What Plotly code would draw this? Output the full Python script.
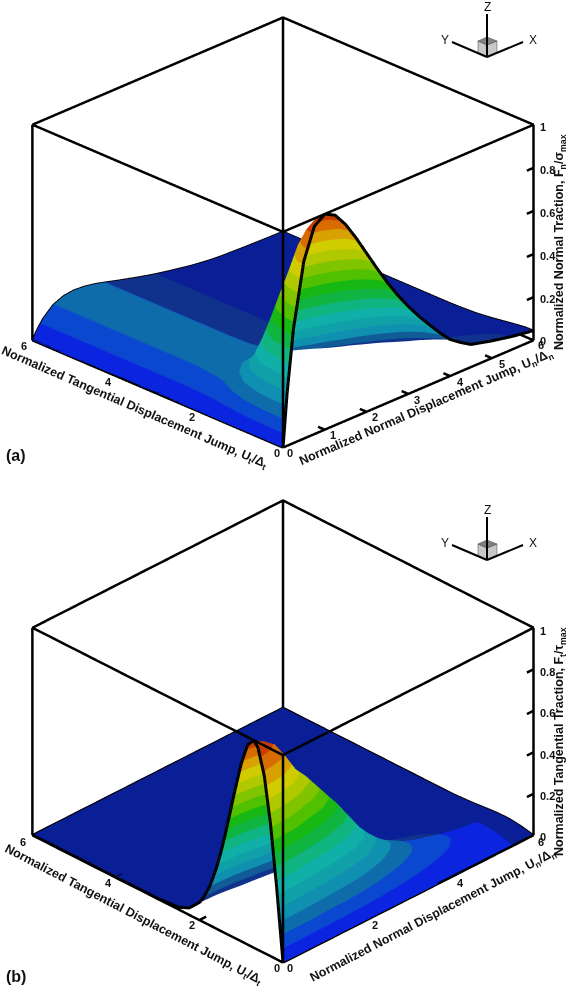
import plotly.graph_objects as go

# ---------- data ----------
UN_A = [0, .1, .25, .5, .75, 1, 1.25, 1.5, 1.75, 2, 2.25, 2.5, 2.75, 3, 3.25, 3.5, 3.75, 4, 4.25, 4.5, 5, 5.5, 6]
UT_A = [0, .2, .4, .6, .8, 1, 1.2, 1.4, 1.6, 1.8, 2, 2.5, 3, 4, 5, 6]
FN = [
    [0, .246, .529, .824, .963, 1, .974, .91, .827, .736, .645, .558, .478, .406, .34, .28, .222, .17, .135, .105, .08, .06, .045],
    [0, .238, .512, .797, .931, .967, .942, .880, .800, .712, .624, .540, .462, .393, .329, .271, .215, .164, .131, .102, .077, .058, .044],
    [0, .215, .462, .720, .842, .874, .851, .795, .723, .643, .564, .488, .418, .355, .297, .245, .194, .149, .118, .092, .070, .052, .039],
    [0, .183, .393, .612, .716, .743, .724, .676, .614, .547, .479, .415, .355, .302, .253, .208, .165, .126, .100, .078, .059, .045, .033],
    [0, .147, .316, .493, .576, .598, .582, .544, .495, .440, .386, .334, .286, .243, .203, .167, .133, .102, .081, .063, .048, .036, .027],
    [0, .114, .245, .382, .446, .463, .451, .421, .383, .341, .299, .258, .221, .188, .157, .130, .103, .079, .063, .049, .037, .028, .021],
    [0, .086, .186, .289, .338, .351, .342, .319, .290, .258, .226, .196, .168, .143, .119, .098, .078, .060, .047, .037, .028, .021, .016],
    [0, .066, .143, .222, .260, .270, .263, .246, .223, .199, .174, .151, .129, .110, .092, .076, .060, .046, .036, .028, .022, .016, .012],
    [0, .053, .114, .177, .207, .215, .209, .196, .178, .158, .139, .120, .103, .087, .073, .060, .048, .037, .029, .023, .017, .013, .010],
    [0, .045, .097, .151, .176, .183, .178, .167, .151, .135, .118, .102, .087, .074, .062, .051, .041, .031, .025, .019, .015, .011, .008],
    [0, .041, .088, .137, .160, .166, .162, .151, .137, .122, .107, .093, .079, .067, .056, .046, .037, .028, .022, .017, .013, .010, .007],
    [0, .037, .080, .125, .146, .152, .148, .138, .126, .112, .098, .085, .073, .062, .052, .043, .034, .026, .021, .016, .012, .009, .007],
    [0, .037, .079, .124, .144, .150, .146, .137, .124, .110, .097, .084, .072, .061, .051, .042, .033, .026, .020, .016, .012, .009, .007],
    [0, .037, .079, .124, .144, .150, .146, .137, .124, .110, .097, .084, .072, .061, .051, .042, .033, .026, .020, .016, .012, .009, .007],
    [0, .037, .079, .124, .144, .150, .146, .137, .124, .110, .097, .084, .072, .061, .051, .042, .033, .026, .020, .016, .012, .009, .007],
    [0, .037, .079, .124, .144, .150, .146, .137, .124, .110, .097, .084, .072, .061, .051, .042, .033, .026, .020, .016, .012, .009, .007],
]
UN_B = [0, .25, .5, .75, 1, 1.25, 1.5, 1.75, 2, 2.25, 2.5, 2.75, 3, 3.25, 3.5, 3.75, 4, 4.5, 5, 5.5, 6]
UT_B = [0, .15, .3, .45, .6, .7, .85, 1, 1.15, 1.3, 1.4, 1.5, 1.6, 1.75, 1.9, 2, 2.25, 2.5, 3, 4, 5, 6]
FT = [
    [0] * 21,
    [.342, .332, .318, .291, .260, .239, .215, .192, .168, .140, .113, .092, .075, .062, .051, .041, .034, .024, .015, .010, .007],
    [.639, .620, .594, .543, .486, .447, .403, .358, .313, .262, .211, .173, .141, .115, .096, .077, .064, .045, .029, .019, .013],
    [.856, .830, .796, .728, .651, .599, .539, .479, .419, .351, .282, .231, .188, .154, .128, .103, .086, .060, .039, .026, .017],
    [.975, .946, .907, .829, .741, .683, .614, .546, .478, .400, .322, .263, .215, .176, .146, .117, .098, .068, .044, .029, .020],
    [.999, .969, .929, .849, .759, .699, .629, .559, .490, .410, .330, .270, .220, .180, .150, .120, .100, .070, .045, .030, .020],
    [.962, .933, .895, .818, .731, .673, .606, .539, .471, .394, .317, .260, .212, .173, .144, .115, .096, .067, .043, .029, .019],
    [.857, .831, .797, .728, .651, .600, .540, .480, .420, .351, .283, .231, .189, .154, .129, .103, .086, .060, .039, .026, .017],
    [.713, .692, .663, .606, .542, .499, .449, .399, .349, .292, .235, .193, .157, .128, .107, .086, .071, .050, .032, .021, .014],
    [.560, .543, .521, .476, .426, .392, .353, .314, .274, .230, .185, .151, .123, .101, .084, .067, .056, .039, .025, .017, .011],
    [.460, .446, .428, .391, .350, .322, .290, .258, .225, .189, .152, .124, .101, .083, .069, .055, .046, .032, .021, .014, .009],
    [.368, .357, .342, .313, .280, .258, .232, .206, .180, .151, .121, .099, .081, .066, .055, .044, .037, .026, .017, .011, .007],
    [.288, .279, .268, .245, .219, .202, .181, .161, .141, .118, .095, .078, .063, .052, .043, .035, .029, .020, .013, .009, .006],
    [.191, .185, .178, .162, .145, .134, .120, .107, .094, .078, .063, .052, .042, .034, .029, .023, .019, .013, .009, .006, .004],
    [.120, .116, .112, .102, .091, .084, .076, .067, .059, .049, .040, .032, .026, .022, .018, .014, .012, .008, .005, .004, .002],
    [.085, .082, .079, .072, .065, .060, .054, .048, .042, .035, .028, .023, .019, .015, .013, .010, .009, .006, .004, .003, .002],
    [.033, .032, .031, .028, .025, .023, .021, .018, .016, .014, .011, .009, .007, .006, .005, .004, .003, .002, .001, .001, .001],
    [.011, .011, .010, .009, .008, .008, .007, .006, .005, .005, .004, .003, .002, .002, .002, .001, .001, .001, .001, .001, .001],
    [.002, .002, .002, .002, .002, .002, .002, .002, .001, .001, .001, .001, .001, .001, .001, .001, .001, .001, .001, .001, .001],
    [.001] * 21,
    [.001] * 21,
    [.001] * 21,
]
TICKS_UN_A = [1, 2, 3, 4, 5]
TICKS_UT_A = [2, 4, 6]
TICKS_UN_B = [2, 4]
TICKS_UT_B = [2, 4, 6]
TICKS_Z = [.2, .4, .6, .8]
# contour bands as they appear on the lit faces and on the faces turned away from the light
BANDS_LIT = ["#0a24e0", "#0a48d0", "#0f6cab", "#1090b0", "#10a0a8", "#10b0a8", "#10b480", "#10b440",
             "#18b814", "#50c000", "#80c400", "#b0c800", "#d0cc00", "#d8a000", "#d86c00", "#c83c00"]
BANDS_SHADE = ["#0a1e96", "#10328c", "#0f5c96"] + BANDS_LIT[3:]

W, H = 567, 986
def px(x): return x / W
def py(y): return 1 - y / H

def stepped(colors):
    out = []
    for i, c in enumerate(colors):
        out += [[i / len(colors), c], [(i + 1) / len(colors), c]]
    return out

LIGHT = dict(ambient=1, diffuse=0, specular=0, roughness=1, fresnel=0)
NO_HL = dict(highlight=False, show=False)

fig = go.Figure()

def sheet(scene, un, ut, z, colors):
    fig.add_trace(go.Surface(x=un, y=ut, z=z, scene=scene, colorscale=stepped(colors), cmin=0, cmax=1,
                             contours=dict(x=NO_HL, y=NO_HL, z=NO_HL),
                             showscale=False, lighting=LIGHT, hoverinfo="skip"))

def frame(scene, un, ut, z, heavy, tick_un, tick_ut):
    a, b, t = 6, 6, 1
    bx, by, bz = [], [], []
    corners = [(0, 0), (a, 0), (a, b), (0, b), (0, 0)]
    for zz in (0, t):
        for c in corners:
            bx.append(c[0]); by.append(c[1]); bz.append(zz)
        bx.append(None); by.append(None); bz.append(None)
    for c in corners[:4]:
        bx += [c[0], c[0], None]; by += [c[1], c[1], None]; bz += [0, t, None]
    fig.add_trace(go.Scatter3d(x=bx, y=by, z=bz, mode="lines", scene=scene, hoverinfo="skip",
                               line=dict(color="black", width=5), showlegend=False))
    ox, oy, oz = [], [], []
    ox += list(un) + [None]; oy += [ut[-1]] * len(un) + [None]; oz += list(z[-1]) + [None]
    ox += [un[-1]] * len(ut) + [None]; oy += list(ut) + [None]; oz += [r[-1] for r in z] + [None]
    fig.add_trace(go.Scatter3d(x=ox, y=oy, z=oz, mode="lines", scene=scene, hoverinfo="skip",
                               line=dict(color="black", width=3.5), showlegend=False))
    if heavy == "un":
        hx, hy, hz = list(un), [0] * len(un), list(z[0])
    else:
        hx, hy, hz = [0] * len(ut), list(ut), [r[0] for r in z]
    fig.add_trace(go.Scatter3d(x=hx, y=hy, z=hz, mode="lines", scene=scene, hoverinfo="skip",
                               line=dict(color="black", width=6), showlegend=False))
    tx, ty, tz = [], [], []
    for v in tick_un:
        tx += [v, v, None]; ty += [0, .16, None]; tz += [0, 0, None]
    for v in tick_ut:
        tx += [0, .16, None]; ty += [v, v, None]; tz += [0, 0, None]
    for v in TICKS_Z:
        tx += [6, 5.84, None]; ty += [0, 0, None]; tz += [v, v, None]
    fig.add_trace(go.Scatter3d(x=tx, y=ty, z=tz, mode="lines", scene=scene, hoverinfo="skip",
                               line=dict(color="black", width=5), showlegend=False))

# panel (a): the part rising from Un = 0 is lit, the part falling away beyond the ridge is shaded
cut = UN_A.index(1.75)
sheet("scene", UN_A[:cut + 1], UT_A, [r[:cut + 1] for r in FN], BANDS_LIT)
sheet("scene", UN_A[cut:], UT_A, [r[cut:] for r in FN], BANDS_SHADE)
frame("scene", UN_A, UT_A, FN, "un", TICKS_UN_A, TICKS_UT_A)

# panel (b): the same split across the ridge in Ut; the far Un end fades back to the shaded blue
cut = UT_B.index(.85)
far = UN_B.index(5.5)
sheet("scene2", UN_B[:far + 1], UT_B[:cut + 1], [r[:far + 1] for r in FT[:cut + 1]], BANDS_LIT)
sheet("scene2", UN_B[far:], UT_B[:cut + 1], [r[far:] for r in FT[:cut + 1]], BANDS_SHADE)
sheet("scene2", UN_B, UT_B[cut:], FT[cut:], BANDS_SHADE)
frame("scene2", UN_B, UT_B, FT, "ut", TICKS_UN_B, TICKS_UT_B)

axis = dict(visible=False, showspikes=False)
def scene(top, bottom, elev_sin, elev_cos, xyratio, zratio, r):
    c = r * elev_cos / 2 ** .5
    return dict(
        domain=dict(x=[0, 566 / W], y=[py(bottom), py(top)]),
        xaxis=dict(axis, range=[0, 6]), yaxis=dict(axis, range=[0, 6]), zaxis=dict(axis, range=[0, 1]),
        aspectmode="manual", aspectratio=dict(x=xyratio, y=xyratio, z=zratio),
        camera=dict(eye=dict(x=-c, y=-c, z=r * elev_sin), up=dict(x=0, y=0, z=1),
                    center=dict(x=0, y=0, z=0), projection=dict(type="orthographic")),
        bgcolor="rgba(0,0,0,0)",
    )

ann = []
def label(x, y, s, size=11, angle=0, bold=True, color="#111", xa="center"):
    ann.append(dict(x=px(x), y=py(y), xref="paper", yref="paper", showarrow=False, text=f"<b>{s}</b>" if bold else s,
                    textangle=angle, xanchor=xa, yanchor="middle",
                    font=dict(family="Liberation Sans", size=size, color=color)))

for x, y, s in [(290, 453, "0"), (333, 435, "1"), (375, 417, "2"), (417, 400, "3"), (460, 382, "4"), (502, 364, "5"),
                (541, 345, "6"), (277, 453, "0"), (192, 417, "2"), (108, 382, "4"), (24, 346, "6"),
                (290, 968, "0"), (375, 925, "2"), (460, 883, "4"), (541, 842, "6"),
                (277, 968, "0"), (192, 925, "2"), (108, 883, "4"), (23, 842, "6")]:
    label(x, y, s)
for ys in [(127, 170, 213, 256, 299, 341), (631, 672, 713, 755, 796, 837)]:
    for y, s in zip(ys, ["1", "0.8", "0.6", "0.4", "0.2", "0"]):
        label(538, y, s, xa="left")
label(134, 408, "Normalized Tangential Displacement Jump, U<sub>t</sub>/Δ<sub>t</sub>", 12.5, 23.4)
label(426, 408, "Normalized Normal Displacement Jump, U<sub>n</sub>/Δ<sub>n</sub>", 12.5, -23.4)
label(560, 242, "Normalized Normal Traction, F<sub>n</sub>/σ<sub>max</sub>", 12.5, -90)
label(133, 915, "Normalized Tangential Displacement Jump, U<sub>t</sub>/Δ<sub>t</sub>", 12.5, 27.5)
label(433, 916, "Normalized Normal Displacement Jump, U<sub>n</sub>/Δ<sub>n</sub>", 12.5, -27.5)
label(560, 742, "Normalized Tangential Traction, F<sub>t</sub>/τ<sub>max</sub>", 12.5, -90)
label(16, 455, "(a)", 16)
label(16, 976, "(b)", 16)

shapes = []
def poly(pts, fill=None, width=0, color="black"):
    d = "M" + " L".join(f"{px(x):.5f},{py(y):.5f}" for x, y in pts) + (" Z" if fill else "")
    shapes.append(dict(type="path", path=d, xref="paper", yref="paper", fillcolor=fill,
                       line=dict(color=color, width=width)))
for dy in (0, 503):
    poly([(478, 41 + dy), (487, 45 + dy), (487, 57 + dy), (478, 53 + dy)], "#c8c8c8", .5, "#444")
    poly([(487, 45 + dy), (497, 41 + dy), (497, 53 + dy), (487, 57 + dy)], "#c8c8c8", .5, "#444")
    poly([(478, 41 + dy), (487, 37 + dy), (497, 41 + dy), (487, 45 + dy)], "#808080", .5, "#444")
    poly([(487, 57 + dy), (487, 14 + dy)], None, 2)
    poly([(487, 57 + dy), (523, 42 + dy)], None, 2)
    poly([(487, 57 + dy), (452, 42 + dy)], None, 2)
    label(487, 7 + dy, "Z", 12, bold=False)
    label(527, 40 + dy, "X", 12, bold=False, xa="left")
    label(445, 40 + dy, "Y", 12, bold=False)

fig.update_layout(width=W, height=H, margin=dict(l=0, r=0, t=0, b=0), paper_bgcolor="white", showlegend=False,
                  scene=scene(0, 465, .428, .904, 1.524, 1.026, 1.312),
                  scene2=scene(499, 964, .508, .861, 1.524, 1.036, 1.312),
                  annotations=ann, shapes=shapes)
fig.write_html("out.html", config=dict(displayModeBar=False), post_script="document.body.style.margin='0';")
